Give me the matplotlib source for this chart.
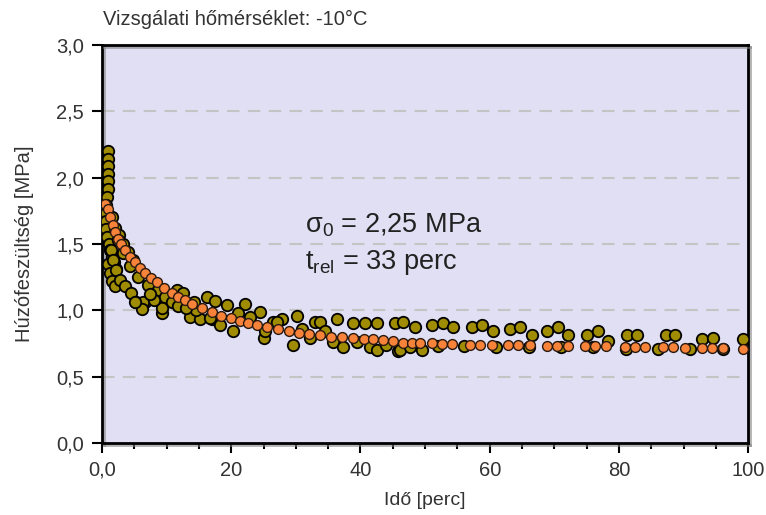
import matplotlib
matplotlib.use('Agg')
import matplotlib.pyplot as plt
import matplotlib.patheffects as pe
from matplotlib.ticker import MultipleLocator

plt.rcParams['font.family'] = ['Liberation Sans', 'DejaVu Sans']
plt.rcParams['mathtext.fontset'] = 'custom'
plt.rcParams['mathtext.rm'] = 'Liberation Sans'

# measured points (olive)
meas_t = [1.0, 1.0, 1.0, 0.9, 0.9, 0.9, 0.8, 0.7, 0.6, 0.6, 0.7, 0.8,
          1.5, 2.0, 2.6, 3.2, 4.0, 4.8,
          1.1, 1.3, 1.6, 1.9, 2.2, 1.0, 1.2, 1.6, 2.0,
          1.4, 1.7, 2.2, 2.8, 3.6, 4.5, 5.3, 6.7, 6.4, 6.2, 5.1,
          2.5, 3.3, 4.3, 5.6, 7.1, 8.7, 9.8, 11.3,
          9.3, 9.3, 11.6, 12.5, 13.6, 15.2, 16.2, 17.1, 18.3, 19.3, 20.3, 22.1,
          24.5, 25.0, 26.5, 27.8, 29.6, 30.2, 10.8, 11.8, 16.7, 21.0, 22.9, 25.2,
          27.1, 14.5, 13.0, 8.0, 7.5, 14.2, 17.5,
          32.2, 33.0, 33.7, 35.8, 36.4, 37.3, 38.9, 40.7, 41.5, 42.6, 42.6,
          45.4, 45.8, 31.0, 34.5, 39.5, 44.0,
          46.6, 48.4, 51.1, 52.8, 54.3, 57.3, 58.8, 60.5, 63.2, 64.7, 66.6, 68.9,
          70.6, 72.1, 75.1, 76.8, 78.3, 81.3, 82.8, 87.2, 88.7, 92.9, 94.6, 99.1,
          46.1, 47.7, 49.5, 52.0, 56.0, 61.0, 66.0, 71.0, 76.0, 81.0, 86.0, 91.0, 96.0]
meas_v = [2.20, 2.14, 2.09, 2.03, 1.97, 1.91, 1.85, 1.79, 1.73, 1.67, 1.61, 1.55,
          1.70, 1.62, 1.57, 1.50, 1.44, 1.38,
          1.50, 1.45, 1.40, 1.36, 1.31, 1.35, 1.28, 1.22, 1.18,
          1.45, 1.38, 1.30, 1.23, 1.18, 1.13, 1.06, 1.06, 1.06, 1.01, 1.06,
          1.53, 1.43, 1.33, 1.25, 1.19, 1.15, 1.10, 1.08,
          0.98, 1.02, 1.15, 1.13, 0.95, 0.93, 1.10, 0.93, 0.89, 1.04, 0.84, 1.05,
          0.99, 0.79, 0.91, 0.93, 0.74, 0.96, 1.06, 1.03, 0.94, 0.98, 0.95, 0.84,
          0.91, 1.00, 1.02, 1.08, 1.12, 1.06, 1.07,
          0.79, 0.91, 0.91, 0.76, 0.93, 0.72, 0.90, 0.90, 0.72, 0.90, 0.70,
          0.90, 0.69, 0.86, 0.84, 0.76, 0.74,
          0.91, 0.875, 0.89, 0.90, 0.87, 0.875, 0.89, 0.84, 0.86, 0.87, 0.81, 0.84,
          0.87, 0.81, 0.81, 0.84, 0.77, 0.81, 0.81, 0.81, 0.81, 0.78, 0.79, 0.78,
          0.70, 0.72, 0.70, 0.73, 0.73, 0.72, 0.72, 0.72, 0.72, 0.71, 0.71, 0.71, 0.71]

# fitted model (orange)
fit_t = [0.5, 0.9, 1.3, 1.7, 2.1, 2.5, 3.0, 3.6, 4.3, 5.1, 5.9, 6.7, 7.6, 8.5, 9.6,
         10.8, 11.8, 12.8, 14.0, 15.5, 17.0, 18.5, 20.0, 21.3, 22.6, 24.0, 25.5,
         27.2, 29.0, 30.5, 32.0, 33.7, 35.5, 37.2, 38.9, 40.5, 42.0, 43.5, 45.0,
         46.6, 48.0, 49.2, 51.1, 52.6, 54.2, 57.0, 58.5, 60.4, 62.8, 64.4, 66.2,
         68.9, 70.4, 72.1, 74.8, 76.3, 77.9, 80.9, 82.5, 84.0, 86.8, 88.4, 90.2,
         92.9, 94.4, 96.0, 99.1]
fit_v = [1.80, 1.76, 1.70, 1.64, 1.59, 1.54, 1.50, 1.45, 1.40, 1.36, 1.32, 1.28,
         1.24, 1.21, 1.17, 1.13, 1.10, 1.08, 1.05, 1.02, 0.99, 0.96, 0.94, 0.92,
         0.90, 0.89, 0.875, 0.86, 0.845, 0.83, 0.82, 0.81, 0.80, 0.795, 0.79,
         0.78, 0.78, 0.775, 0.77, 0.75, 0.75, 0.75, 0.75, 0.745, 0.745, 0.74,
         0.74, 0.735, 0.74, 0.74, 0.735, 0.73, 0.73, 0.73, 0.73, 0.73, 0.73,
         0.72, 0.72, 0.72, 0.72, 0.72, 0.715, 0.715, 0.715, 0.715, 0.71]

xticks = [0, 20, 40, 60, 80, 100]
xtick_labels = ['0,0', '20', '40', '60', '80', '100']
yticks = [0.0, 0.5, 1.0, 1.5, 2.0, 2.5, 3.0]
ytick_labels = ['0,0', '0,5', '1,0', '1,5', '2,0', '2,5', '3,0']

fig = plt.figure(figsize=(7.66, 5.15), dpi=100)
ax = fig.add_axes([0.133, 0.140, 0.844, 0.773])
ax.set_facecolor('#e1dff3')

for y in yticks[1:-1]:
    ax.axhline(y, color='#c4c4c4', lw=1.5, ls=(0, (6, 4)), zorder=1)

ax.scatter(meas_t, meas_v, s=68, c='#a08c00', edgecolors='black',
           linewidths=1.3, zorder=3)
ax.scatter(fit_t, fit_v, s=50, c='#f7823a', edgecolors='#2a1a10',
           linewidths=1.0, zorder=4)

ax.set_xlim(0, 100)
ax.set_ylim(0, 3.0)
ax.set_xticks(xticks)
ax.set_xticklabels(xtick_labels)
ax.set_yticks(yticks)
ax.set_yticklabels(ytick_labels)
ax.xaxis.set_minor_locator(MultipleLocator(5))
ax.tick_params(axis='both', which='major', direction='out', length=7, width=1.5,
               labelsize=14.5, colors='black', labelcolor='#333333', pad=6)
ax.tick_params(axis='x', which='minor', direction='out', length=4, width=1.5)

for side in ['top', 'right', 'bottom', 'left']:
    ax.spines[side].set_linewidth(2)
    ax.spines[side].set_path_effects([
        pe.SimpleLineShadow(offset=(1.5, -1.5), shadow_color='gray', alpha=0.6),
        pe.Normal()])

ax.set_xlabel('Idő [perc]', fontsize=14, color='#333333', labelpad=9)
ax.set_ylabel('Húzófeszültség [MPa]', fontsize=14.5, color='#333333', labelpad=16)

ax.text(31.4, 1.64, r'$\mathregular{σ_0}$ = 2,25 MPa', fontsize=19.5,
        color='#222222', va='center', ha='left')
ax.text(31.4, 1.36, r'$\mathregular{t_{rel}}$ = 33 perc', fontsize=19.5,
        color='#222222', va='center', ha='left')

fig.text(0.135, 0.962, 'Vizsgálati hőmérséklet: -10°C', fontsize=14.5,
         color='#333333', va='center', ha='left')

fig.savefig('out.png', dpi=100)
